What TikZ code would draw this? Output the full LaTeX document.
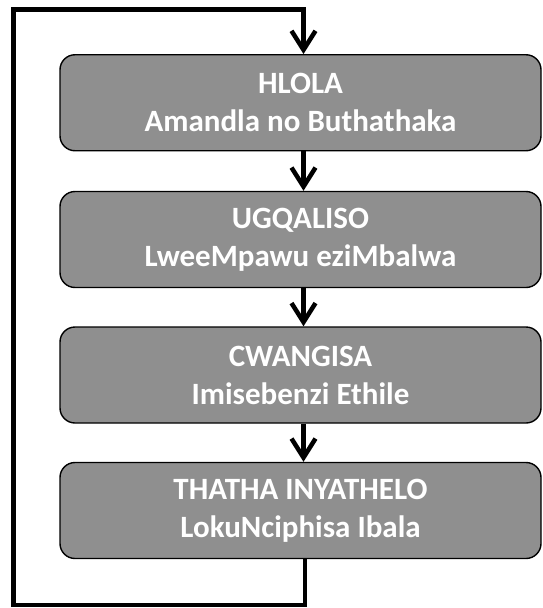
\documentclass[tikz,border=0pt]{standalone}
\usepackage{fontspec}
\setmainfont{Carlito}
\usetikzlibrary{arrows.meta}

\begin{document}
\begin{tikzpicture}[x=1pt,y=-1pt,
  stage/.style={draw=black,line width=1.4pt,fill=stagegray,rounded corners=15pt,
    minimum width=481pt,minimum height=96pt,inner sep=0pt,align=center,
    text=white,font=\fontsize{31}{38}\selectfont\bfseries},
  flow/.style={line width=4.5pt,-{Straight Barb[length=19pt,width=24pt,line width=4.5pt]}}]
\definecolor{stagegray}{RGB}{143,143,143}
\useasboundingbox (0,0) rectangle (542,608);

\node[stage] (hlola) at (300.5,102.75) {HLOLA\\Amandla no Buthathaka};
\node[stage] (ugqaliso) at (300.5,239.5) {UGQALISO\\LweeMpawu eziMbalwa};
\node[stage] (cwangisa) at (300.5,375) {CWANGISA\\Imisebenzi Ethile};
\node[stage] (thatha) at (300.5,510.5) {THATHA INYATHELO\\LokuNciphisa Ibala};

\coordinate (spine) at (303.5,0);
\coordinate (back) at (305,605);
\coordinate (corner) at (13.5,9.5);

% steps
\draw[flow] (hlola.south -| spine) -- (ugqaliso.north -| spine);
\draw[flow] (ugqaliso.south -| spine) -- (cwangisa.north -| spine);
\draw[flow] (cwangisa.south -| spine) -- (thatha.north -| spine);

% feedback loop
\draw[flow] (thatha.south -| back) -- (back) -| (corner) -| (hlola.north -| spine);

\end{tikzpicture}
\end{document}
